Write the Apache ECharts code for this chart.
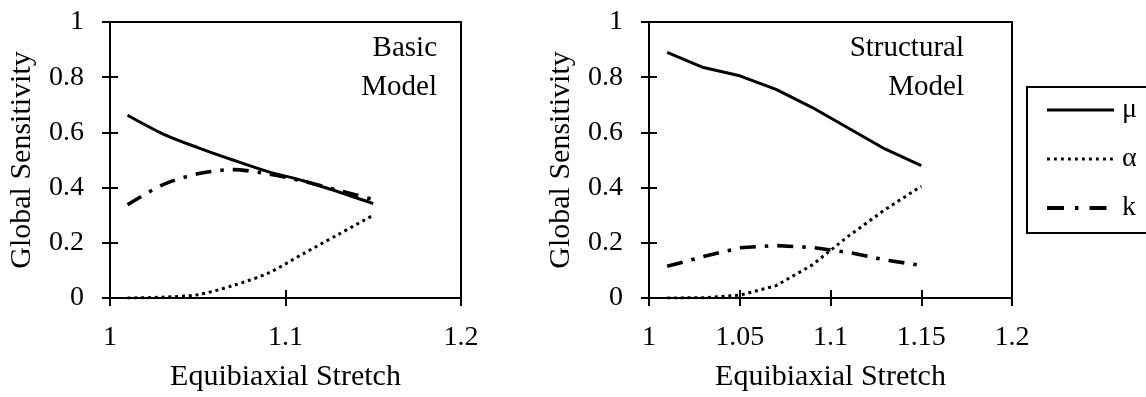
<!DOCTYPE html>
<html>
<head>
<meta charset="utf-8">
<title>Global Sensitivity vs Equibiaxial Stretch</title>
<script src="https://cdn.jsdelivr.net/npm/echarts@6/dist/echarts.min.js"></script>
<style>
  html, body { margin: 0; padding: 0; background: #fff; }
  #chart { width: 1146px; height: 397px; }
</style>
</head>
<body>
<div id="chart"></div>
<script>
// Stretch values where sensitivities were evaluated
const stretch = [1.01, 1.03, 1.05, 1.07, 1.09, 1.11, 1.13, 1.15];

// Basic model sensitivities
const basicMu    = [0.662, 0.595, 0.545, 0.500, 0.458, 0.425, 0.385, 0.342];
const basicAlpha = [0.000, 0.003, 0.012, 0.045, 0.090, 0.160, 0.230, 0.300];
const basicK     = [0.338, 0.410, 0.450, 0.465, 0.450, 0.423, 0.390, 0.357];

// Structural model sensitivities
const structMu    = [0.890, 0.835, 0.805, 0.756, 0.690, 0.615, 0.540, 0.480];
const structAlpha = [0.000, 0.001, 0.010, 0.045, 0.120, 0.225, 0.320, 0.405];
const structK     = [0.115, 0.150, 0.182, 0.190, 0.183, 0.165, 0.138, 0.118];

// Axis ticks
const basicXTicks  = [1, 1.1, 1.2];
const structXTicks = [1, 1.05, 1.1, 1.15, 1.2];
const yTicks       = [0, 0.2, 0.4, 0.6, 0.8, 1];

// Legend names and panel captions
const paramNames = ['μ', 'α', 'k'];
const basicCaption  = ['Basic', 'Model'];
const structCaption = ['Structural', 'Model'];

const FONT = '"Liberation Serif", "Times New Roman", serif';
const BLACK = '#000';

const pairs = (ys) => stretch.map((x, i) => [x, ys[i]]);

const lineStyles = [
  { color: BLACK, width: 3, type: 'solid' },
  { color: BLACK, width: 3, type: [3, 3.8], cap: 'butt' },
  { color: BLACK, width: 3.6, type: [16, 9, 3.5, 9], cap: 'butt' }
];

// Legend samples: same strokes, dash-dot trimmed so the sample reads "dash · dash"
const legendLineStyles = [
  { color: BLACK, width: 3, type: 'solid' },
  { color: BLACK, width: 2.8, type: [2.8, 4.2], cap: 'butt' },
  { color: BLACK, width: 4, type: [17, 11, 3.5, 11], cap: 'butt' }
];

const labelFmt = (v) => String(+v.toFixed(2));

function xAxes(ticks, gridIndex) {
  const base = {
    type: 'value',
    gridIndex,
    position: 'bottom',
    min: ticks[0],
    max: ticks[ticks.length - 1],
    interval: ticks[1] - ticks[0],
    splitLine: { show: false }
  };
  return [
    Object.assign({}, base, {
      name: 'Equibiaxial Stretch',
      nameLocation: 'middle',
      nameGap: 64,
      nameTextStyle: { fontFamily: FONT, fontSize: 30, color: BLACK },
      axisLine: { show: true, lineStyle: { color: BLACK, width: 2 } },
      axisTick: { show: true, inside: false, length: 8, lineStyle: { color: BLACK, width: 2 } },
      axisLabel: { fontFamily: FONT, fontSize: 28, color: BLACK, margin: 26, formatter: labelFmt }
    }),
    Object.assign({}, base, {
      axisLine: { show: false },
      axisTick: { show: true, inside: true, length: 8, lineStyle: { color: BLACK, width: 2 } },
      axisLabel: { show: false }
    })
  ];
}

function yAxes(gridIndex) {
  const base = {
    type: 'value',
    gridIndex,
    position: 'left',
    min: yTicks[0],
    max: yTicks[yTicks.length - 1],
    interval: yTicks[1] - yTicks[0],
    splitLine: { show: false }
  };
  return [
    Object.assign({}, base, {
      name: 'Global Sensitivity',
      nameLocation: 'middle',
      nameGap: 73,
      nameTextStyle: { fontFamily: FONT, fontSize: 30, color: BLACK },
      axisLine: { show: true, lineStyle: { color: BLACK, width: 2 } },
      axisTick: { show: true, inside: false, length: 8, lineStyle: { color: BLACK, width: 2 } },
      axisLabel: { fontFamily: FONT, fontSize: 28, color: BLACK, margin: 26, formatter: labelFmt }
    }),
    Object.assign({}, base, {
      axisLine: { show: false },
      axisTick: { show: true, inside: true, length: 8, lineStyle: { color: BLACK, width: 2 } },
      axisLabel: { show: false }
    })
  ];
}

function seriesFor(values, xIdx, yIdx, smooth) {
  return values.map((ys, i) => ({
    type: 'line',
    name: paramNames[i],
    xAxisIndex: xIdx,
    yAxisIndex: yIdx,
    data: pairs(ys),
    symbol: 'none',
    smooth,
    itemStyle: { color: BLACK },
    lineStyle: lineStyles[i],
    animation: false,
    z: 3
  }));
}

// Two-line caption, right-aligned, first baseline at baselineY
function caption(lines, rightX, baselineY) {
  return lines.map((t, i) => ({
    type: 'text',
    x: rightX,
    y: baselineY + i * 39 - 10,
    style: { text: t, font: '29px ' + FONT, fill: BLACK, align: 'right', verticalAlign: 'middle' }
  }));
}

const chart = echarts.init(document.getElementById('chart'), null, { renderer: 'canvas' });

chart.setOption({
  backgroundColor: '#fff',
  animation: false,
  grid: [
    { left: 110, top: 22, width: 351, height: 278, show: true, borderColor: BLACK, borderWidth: 2, backgroundColor: 'transparent' },
    { left: 649, top: 22, width: 363, height: 278, show: true, borderColor: BLACK, borderWidth: 2, backgroundColor: 'transparent' }
  ],
  xAxis: [].concat(xAxes(basicXTicks, 0), xAxes(structXTicks, 1)),
  yAxis: [].concat(yAxes(0), yAxes(1)),
  legend: {
    orient: 'vertical',
    left: 1027,
    top: 87,
    data: paramNames.map((n, i) => ({
      name: n,
      lineStyle: legendLineStyles[i],
      itemStyle: { opacity: 0 }
    })),
    itemWidth: 67,
    itemHeight: 20,
    itemGap: 21,
    padding: [9, 50, 11, 18],
    borderColor: BLACK,
    borderWidth: 2,
    selectedMode: false,
    textStyle: { fontFamily: FONT, fontSize: 28, color: BLACK, padding: [0, 0, 0, 3] }
  },
  graphic: [].concat(
    caption(basicCaption, 437, 58),
    caption(structCaption, 964, 58)
  ),
  series: [].concat(
    seriesFor([basicMu, basicAlpha, basicK], 0, 0, 0.3),
    seriesFor([structMu, structAlpha, structK], 2, 2, false)
  )
});
</script>
</body>
</html>
